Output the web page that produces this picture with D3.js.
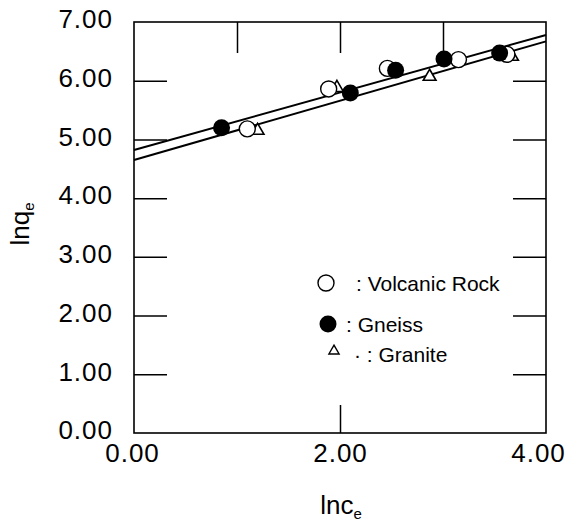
<!DOCTYPE html>
<html>
<head>
<meta charset="utf-8">
<script src="https://cdn.jsdelivr.net/npm/d3@7"></script>
<style>
  body { margin: 0; background: #fff; }
  text { font-family: "Liberation Sans", Arial, sans-serif; fill: #000; }
</style>
</head>
<body>
<svg id="chart" width="573" height="529"></svg>
<script>
// ---- data ----
const volcanicX = [1.10, 1.89, 2.46, 3.15, 3.62];
const volcanicY = [5.18, 5.86, 6.21, 6.36, 6.45];
const gneissX = [0.85, 2.10, 2.54, 3.01, 3.55];
const gneissY = [5.20, 5.79, 6.18, 6.37, 6.47];
const graniteX = [1.20, 1.97, 2.87, 3.67];
const graniteY = [5.15, 5.88, 6.07, 6.41];
const fitUpperX = [0, 4];
const fitUpperY = [4.82, 6.78];
const fitLowerX = [0, 4];
const fitLowerY = [4.65, 6.67];
const xTickLabels = [0, 2, 4];
const yTickLabels = [0, 1, 2, 3, 4, 5, 6, 7];
const legendLabels = [": Volcanic Rock", ": Gneiss", "\u00b7 : Granite"];

// ---- layout ----
const svg = d3.select("#chart");
const x = d3.scaleLinear().domain([0, 4]).range([134, 546]);
const y = d3.scaleLinear().domain([0, 7]).range([433, 22]);
const fmt = d3.format(".2f");

// frame
svg.append("rect")
  .attr("x", x(0)).attr("y", y(7))
  .attr("width", x(4) - x(0)).attr("height", y(0) - y(7))
  .attr("fill", "none").attr("stroke", "#000").attr("stroke-width", 1.6);

// inward ticks
const inner = [1, 2, 3, 4, 5, 6];
svg.append("g").attr("transform", `translate(${x(0)},0)`)
  .call(d3.axisRight(y).tickValues(inner).tickSize(33).tickFormat(""))
  .call(g => g.select(".domain").remove())
  .selectAll("line").attr("stroke-width", 1.5);
svg.append("g").attr("transform", `translate(${x(4)},0)`)
  .call(d3.axisLeft(y).tickValues(inner).tickSize(33).tickFormat(""))
  .call(g => g.select(".domain").remove())
  .selectAll("line").attr("stroke-width", 1.5);
svg.append("g").attr("transform", `translate(0,${y(7)})`)
  .call(d3.axisBottom(x).tickValues([1, 2, 3]).tickSize(31).tickFormat(""))
  .call(g => g.select(".domain").remove())
  .selectAll("line").attr("stroke-width", 1.5);
svg.append("g").attr("transform", `translate(0,${y(0)})`)
  .call(d3.axisTop(x).tickValues([2]).tickSize(28).tickFormat(""))
  .call(g => g.select(".domain").remove())
  .selectAll("line").attr("stroke-width", 1.5);

// tick labels
const yAx = svg.append("g").attr("transform", `translate(${x(0)},0)`)
  .call(d3.axisLeft(y).tickValues(yTickLabels).tickSize(0).tickPadding(21).tickFormat(fmt));
yAx.select(".domain").remove();
yAx.selectAll("text").attr("font-size", 26).attr("dy", "0.22em")
  .style("font-family", '"Liberation Sans", Arial, sans-serif').style("letter-spacing", "1px");

const xAx = svg.append("g").attr("transform", `translate(0,${y(0)})`)
  .call(d3.axisBottom(x).tickValues(xTickLabels).tickSize(0).tickPadding(11).tickFormat(fmt));
xAx.select(".domain").remove();
xAx.selectAll("text").attr("font-size", 26)
  .style("font-family", '"Liberation Sans", Arial, sans-serif').style("letter-spacing", "1px")
  .attr("dx", (d, i) => [-2, 0, -8][i]);

// axis titles
const xt = svg.append("text").attr("x", 341).attr("y", 514)
  .attr("text-anchor", "middle").attr("font-size", 26);
xt.append("tspan").text("lnc");
xt.append("tspan").text("e").attr("font-size", 15).attr("dy", 5);

const yt = svg.append("text").attr("transform", "translate(29,224) rotate(-90)")
  .attr("text-anchor", "middle").attr("font-size", 26);
yt.append("tspan").text("lnq");
yt.append("tspan").text("e").attr("font-size", 15).attr("dy", 5);

// fit lines
const line = d3.line().x(d => x(d[0])).y(d => y(d[1]));
[[fitUpperX, fitUpperY], [fitLowerX, fitLowerY]].forEach(([xs, ys]) => {
  svg.append("path").datum(xs.map((v, i) => [v, ys[i]]))
    .attr("d", line).attr("fill", "none").attr("stroke", "#000").attr("stroke-width", 2);
});

// markers
const tri = d3.symbol().type(d3.symbolTriangle).size(70);
svg.append("g").selectAll("path").data(graniteX.map((v, i) => [v, graniteY[i]])).join("path")
  .attr("d", tri).attr("transform", d => `translate(${x(d[0])},${y(d[1])})`)
  .attr("fill", "#fff").attr("stroke", "#000").attr("stroke-width", 1.6);
svg.append("g").selectAll("circle").data(volcanicX.map((v, i) => [v, volcanicY[i]])).join("circle")
  .attr("cx", d => x(d[0])).attr("cy", d => y(d[1])).attr("r", 8)
  .attr("fill", "#fff").attr("stroke", "#000").attr("stroke-width", 1.4);
svg.append("g").selectAll("circle").data(gneissX.map((v, i) => [v, gneissY[i]])).join("circle")
  .attr("cx", d => x(d[0])).attr("cy", d => y(d[1])).attr("r", 8.5)
  .attr("fill", "#000");

// legend
const lg = svg.append("g");
lg.append("circle").attr("cx", 326).attr("cy", 283).attr("r", 8)
  .attr("fill", "#fff").attr("stroke", "#000").attr("stroke-width", 1.4);
lg.append("circle").attr("cx", 328).attr("cy", 324).attr("r", 8.5).attr("fill", "#000");
lg.append("path").attr("d", d3.symbol().type(d3.symbolTriangle).size(45))
  .attr("transform", "translate(334,351)")
  .attr("fill", "#fff").attr("stroke", "#000").attr("stroke-width", 1.4);
const lx = [356, 346, 354];
const ly = [291, 332, 362];
legendLabels.forEach((t, i) => {
  lg.append("text").attr("x", lx[i]).attr("y", ly[i]).attr("font-size", 21).text(t);
});
</script>
</body>
</html>
